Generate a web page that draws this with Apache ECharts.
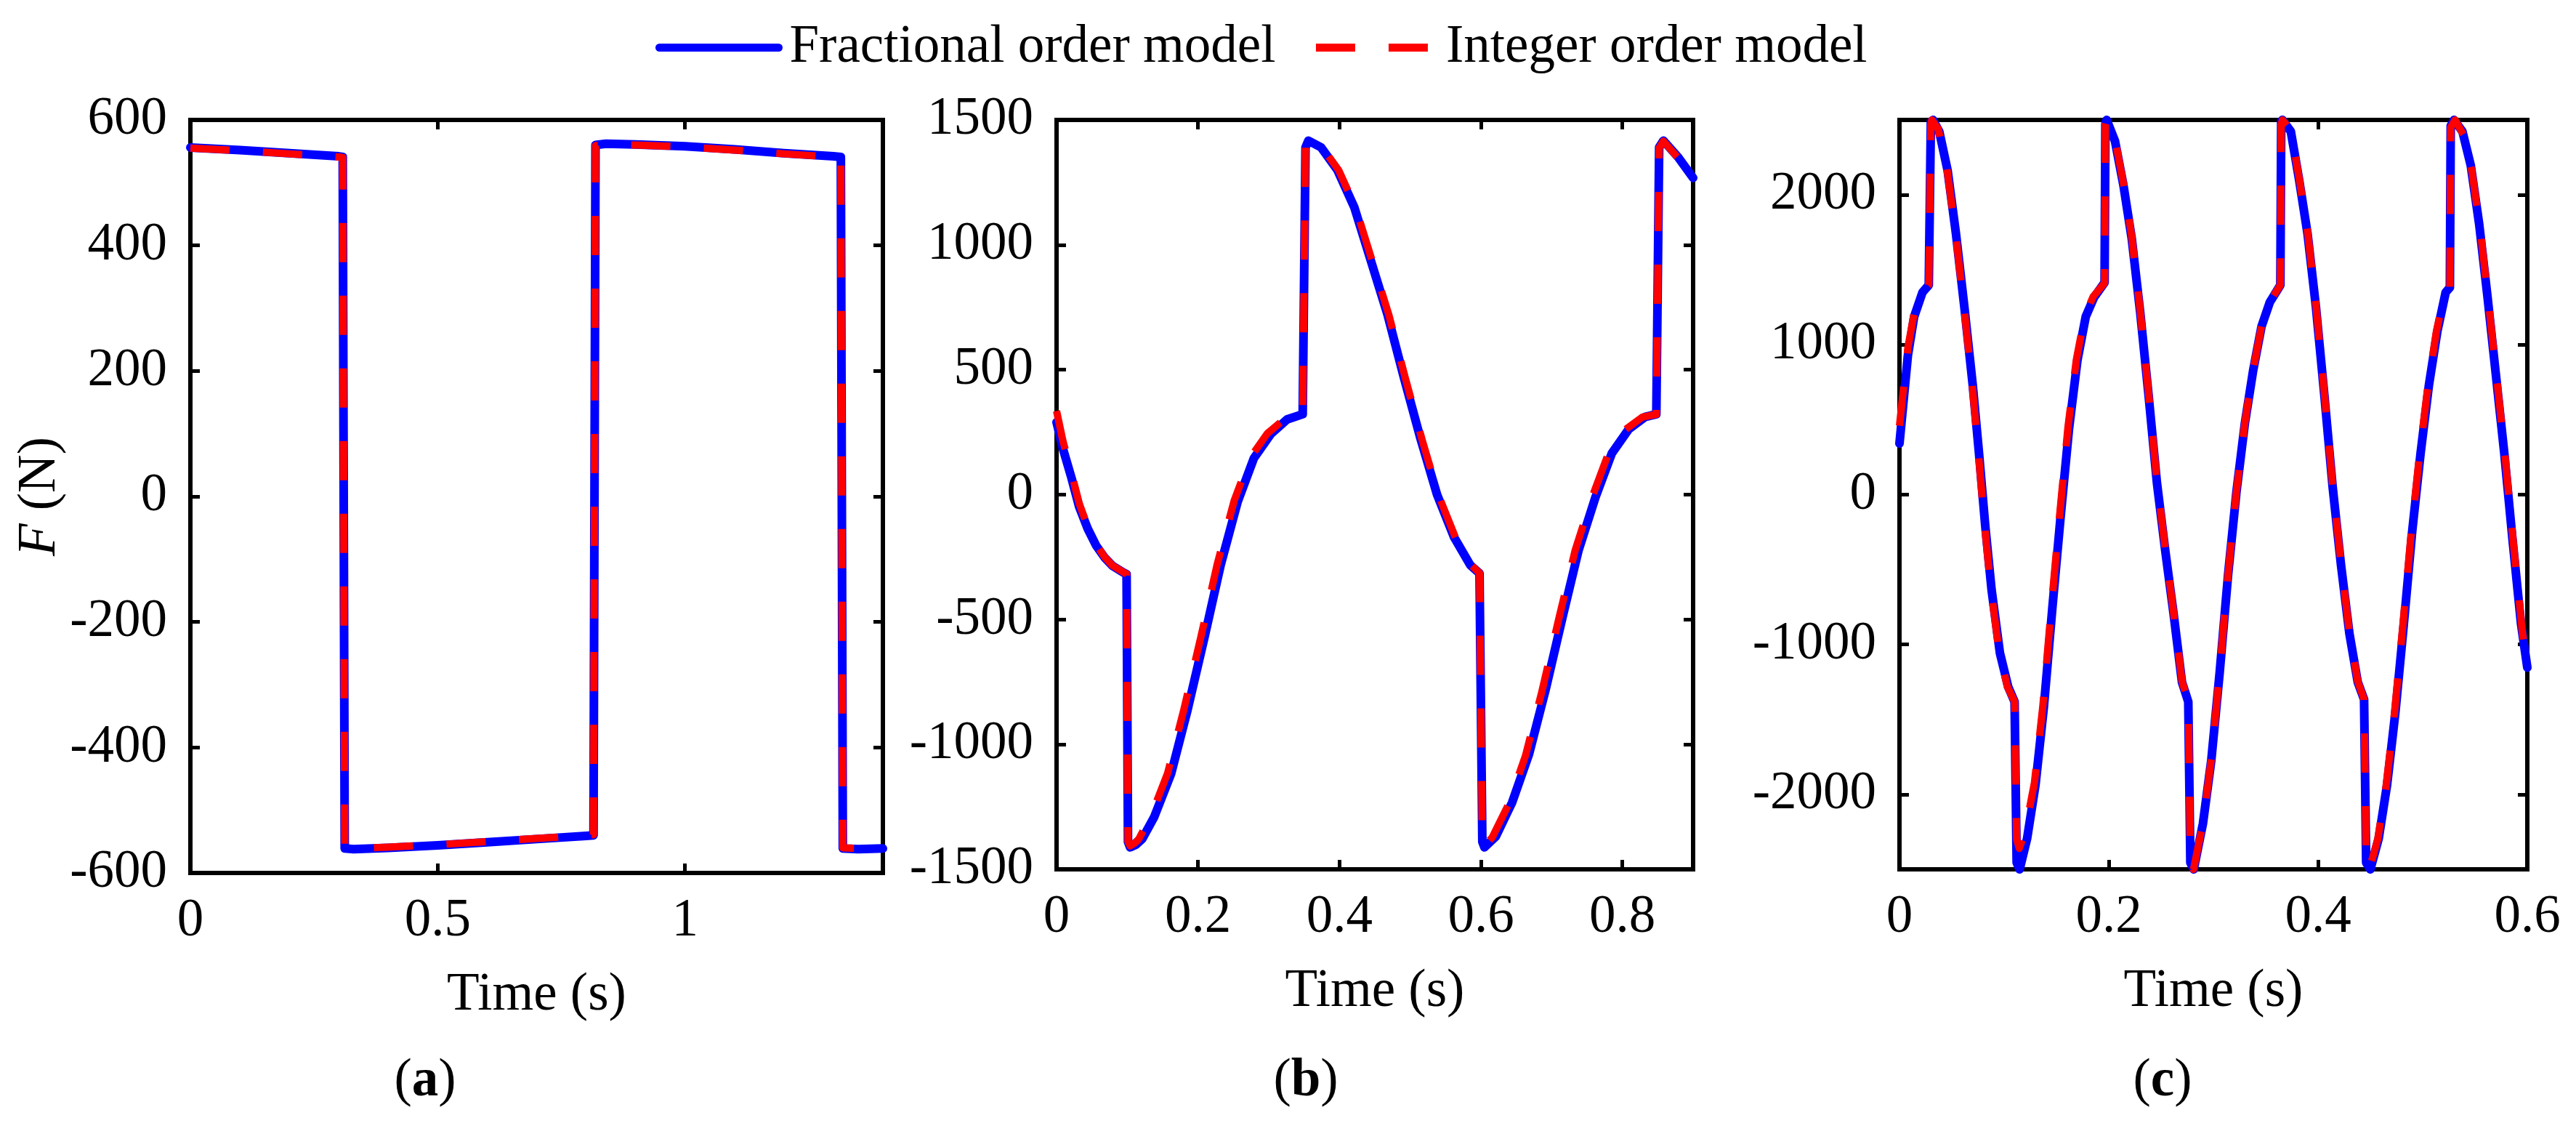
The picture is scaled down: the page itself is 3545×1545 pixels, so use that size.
<!DOCTYPE html>
<html>
<head>
<meta charset="utf-8">
<script src="https://cdn.jsdelivr.net/npm/echarts@6/dist/echarts.min.js"></script>
<style>
  html, body { margin: 0; padding: 0; background: #fff; }
  #forcechart { width: 3545px; height: 1545px; }
</style>
</head>
<body>
<div id="forcechart"></div>
<script>
// panel (a): square-wave force, [time s, F N]
var aFrac = [[0, 556], [0.1, 552], [0.2, 547], [0.3, 542], [0.308, 541], [0.312, -561], [0.33, -562],
  [0.4, -560], [0.5, -556], [0.6, -551], [0.7, -546], [0.8, -541], [0.815, -540], [0.819, 560],
  [0.84, 562], [0.9, 561], [1.0, 558], [1.1, 553], [1.2, 547], [1.3, 542], [1.315, 541],
  [1.319, -561], [1.35, -562], [1.4, -561]];
var aInt = [[0, 555], [0.1, 551], [0.2, 546], [0.3, 541], [0.308, 540], [0.312, -560], [0.33, -561],
  [0.4, -559], [0.5, -555], [0.6, -550], [0.7, -545], [0.8, -540], [0.815, -539], [0.819, 559],
  [0.84, 561], [0.9, 560], [1.0, 557], [1.1, 552], [1.2, 546], [1.3, 541], [1.315, 540],
  [1.319, -560], [1.35, -561], [1.4, -560]];

// panel (b)
var bFrac = [[0, 290], [0.009, 184], [0.021, 68], [0.032, -49], [0.044, -136], [0.056, -204],
  [0.068, -252], [0.079, -285], [0.094, -311], [0.099, -318], [0.101, -1390], [0.104, -1412],
  [0.112, -1402], [0.121, -1379], [0.138, -1291], [0.162, -1117], [0.185, -864], [0.209, -573],
  [0.232, -282], [0.256, -29], [0.279, 146], [0.303, 243], [0.326, 301], [0.348, 322], [0.35, 325],
  [0.352, 1390], [0.356, 1417], [0.374, 1390], [0.397, 1300], [0.421, 1150], [0.444, 940],
  [0.468, 720], [0.491, 470], [0.515, 220], [0.538, 0], [0.562, -170], [0.585, -282], [0.598, -315],
  [0.6, -318], [0.602, -1390], [0.605, -1412], [0.621, -1369], [0.644, -1233], [0.668, -1039],
  [0.691, -786], [0.715, -495], [0.738, -223], [0.762, -10], [0.785, 165], [0.809, 262],
  [0.832, 311], [0.848, 322], [0.85, 325], [0.852, 1390], [0.858, 1417], [0.879, 1350], [0.9, 1268]];
var bInt = [[0, 335], [0.009, 215], [0.021, 88], [0.032, -35], [0.044, -128], [0.056, -199],
  [0.068, -250], [0.079, -284], [0.094, -310], [0.099, -317], [0.101, -1388], [0.104, -1406],
  [0.11, -1396], [0.116, -1380], [0.133, -1290], [0.157, -1115], [0.18, -860], [0.204, -570],
  [0.227, -280], [0.251, -25], [0.274, 148], [0.298, 245], [0.322, 302], [0.348, 322], [0.35, 325],
  [0.352, 1390], [0.356, 1415], [0.376, 1388], [0.399, 1298], [0.423, 1148], [0.446, 938],
  [0.47, 718], [0.493, 468], [0.517, 218], [0.54, -2], [0.564, -172], [0.587, -284], [0.598, -314],
  [0.6, -317], [0.602, -1388], [0.605, -1406], [0.616, -1372], [0.639, -1240], [0.663, -1045],
  [0.686, -790], [0.71, -498], [0.733, -225], [0.757, -12], [0.78, 163], [0.804, 260],
  [0.828, 310], [0.848, 321], [0.85, 324], [0.852, 1388], [0.858, 1415], [0.879, 1347], [0.9, 1262]];

// panel (c)
var cFrac = [[0, 341], [0.008, 927], [0.014, 1187], [0.022, 1350], [0.028, 1398], [0.03, 2488],
  [0.032, 2500], [0.038, 2423], [0.046, 2163], [0.054, 1740], [0.062, 1252], [0.07, 732],
  [0.076, 276], [0.082, -211], [0.088, -634], [0.096, -1057], [0.104, -1285], [0.11, -1382],
  [0.112, -2455], [0.1148, -2500], [0.122, -2293], [0.13, -1935], [0.138, -1415], [0.146, -764],
  [0.154, -146], [0.162, 439], [0.17, 894], [0.178, 1187], [0.186, 1317], [0.196, 1415],
  [0.1968, 2472], [0.198, 2500], [0.206, 2358], [0.214, 2065], [0.222, 1707], [0.23, 1220],
  [0.238, 667], [0.246, 81], [0.254, -374], [0.262, -797], [0.27, -1252], [0.276, -1382],
  [0.278, -2455], [0.2812, -2500], [0.29, -2195], [0.298, -1772], [0.306, -1187], [0.314, -537],
  [0.322, 16], [0.33, 472], [0.338, 829], [0.346, 1122], [0.354, 1285], [0.364, 1398],
  [0.3648, 2488], [0.366, 2500], [0.374, 2423], [0.382, 2098], [0.39, 1740], [0.398, 1252],
  [0.406, 667], [0.414, 49], [0.422, -472], [0.43, -927], [0.438, -1252], [0.444, -1366],
  [0.446, -2455], [0.45, -2500], [0.458, -2293], [0.466, -1935], [0.474, -1447], [0.482, -862],
  [0.49, -244], [0.498, 276], [0.506, 732], [0.514, 1089], [0.522, 1350], [0.526, 1382],
  [0.5268, 2460], [0.53, 2500], [0.538, 2423], [0.546, 2195], [0.554, 1805], [0.562, 1317],
  [0.57, 797], [0.578, 276], [0.586, -309], [0.594, -862], [0.6, -1154]];
var cInt = [[0, 460], [0.008, 980], [0.014, 1210], [0.022, 1360], [0.028, 1400], [0.03, 2470],
  [0.031, 2500], [0.037, 2440], [0.045, 2190], [0.053, 1780], [0.061, 1290], [0.069, 770],
  [0.075, 310], [0.081, -180], [0.087, -610], [0.095, -1040], [0.103, -1280], [0.11, -1380],
  [0.112, -2300], [0.1145, -2360], [0.12, -2250], [0.129, -1920], [0.137, -1410], [0.145, -760],
  [0.153, -140], [0.161, 450], [0.169, 900], [0.177, 1190], [0.185, 1320], [0.196, 1412],
  [0.1968, 2470], [0.198, 2500], [0.206, 2370], [0.214, 2080], [0.222, 1720], [0.23, 1230],
  [0.238, 680], [0.246, 95], [0.254, -360], [0.262, -790], [0.27, -1245], [0.276, -1380],
  [0.278, -2450], [0.281, -2500], [0.29, -2190], [0.298, -1765], [0.306, -1180], [0.314, -530],
  [0.322, 22], [0.33, 478], [0.338, 835], [0.346, 1125], [0.354, 1288], [0.364, 1398],
  [0.3648, 2470], [0.366, 2500], [0.374, 2430], [0.382, 2110], [0.39, 1755], [0.398, 1265],
  [0.406, 680], [0.414, 60], [0.422, -460], [0.43, -920], [0.438, -1248], [0.444, -1365],
  [0.446, -2450], [0.449, -2500], [0.457, -2300], [0.465, -1945], [0.473, -1460], [0.481, -875],
  [0.489, -255], [0.497, 268], [0.505, 725], [0.513, 1085], [0.521, 1348], [0.526, 1382],
  [0.5268, 2450], [0.531, 2500], [0.539, 2400], [0.547, 2160], [0.555, 1770], [0.563, 1280],
  [0.571, 760], [0.579, 240], [0.587, -345], [0.595, -900], [0.6, -1180]];

var xMax = [1.4, 0.9, 0.6];
var xStep = [0.5, 0.2, 0.2];
var yMax = [600, 1500, 2500];
var subLabels = ['a', 'b', 'c'];

var FONT = "'Liberation Serif', 'Times New Roman', serif";
var FS = 73;
var DASH = [54, 46];

var Chart = echarts.init(document.getElementById('forcechart'), null, { renderer: 'canvas' });

var grids = [
  { left: 262, top: 165, width: 953, height: 1036 },
  { left: 1454, top: 165, width: 876, height: 1031 },
  { left: 2614, top: 165, width: 864, height: 1031 }
];

var xAxes = [], yAxes = [];
grids.forEach(function (g, i) {
  g.show = true;
  g.borderColor = '#000';
  g.borderWidth = 6;
  var tick = { show: true, inside: true, length: 13, lineStyle: { color: '#000', width: 5 } };
  var noLine = { show: false, onZero: false };
  var xLab = {
    color: '#000', fontFamily: FONT, fontSize: FS, margin: 30,
    formatter: function (v) {
      var k = Math.round(v / xStep[i] * 1000) / 1000;
      return Math.abs(k - Math.round(k)) < 1e-6 ? String(+v.toFixed(2)) : '';
    }
  };
  var yLab = {
    color: '#000', fontFamily: FONT, fontSize: FS, margin: 32,
    formatter: function (v) { return Math.abs(v) === 2500 ? '' : String(v); }
  };
  xAxes.push({
    type: 'value', gridIndex: i, position: 'bottom', min: 0, max: xMax[i], interval: xStep[i],
    axisLine: noLine, axisTick: tick, splitLine: { show: false }, axisLabel: xLab,
    name: 'Time (s)', nameLocation: 'middle', nameGap: 132,
    nameTextStyle: { color: '#000', fontFamily: FONT, fontSize: FS }
  });
  xAxes.push({
    type: 'value', gridIndex: i, position: 'top', min: 0, max: xMax[i], interval: xStep[i],
    axisLine: noLine, axisTick: tick, splitLine: { show: false }, axisLabel: { show: false }
  });
  var yBase = { type: 'value', gridIndex: i, min: -yMax[i], max: yMax[i] };
  if (i < 2) { yBase.interval = yMax[i] / 3; } else { yBase.splitNumber = 5; }
  var yl = Object.assign({}, yBase, {
    position: 'left', axisLine: noLine, axisTick: tick,
    splitLine: { show: false }, axisLabel: yLab
  });
  if (i === 0) {
    yl.name = '{i|F} (N)';
    yl.nameLocation = 'middle';
    yl.nameRotate = 90;
    yl.nameGap = 168;
    yl.nameTextStyle = {
      color: '#000', fontFamily: FONT, fontSize: FS,
      rich: { i: { fontStyle: 'italic', fontFamily: FONT, fontSize: FS, color: '#000' } }
    };
  }
  yAxes.push(yl);
  yAxes.push(Object.assign({}, yBase, {
    position: 'right', axisLine: noLine, axisTick: tick,
    splitLine: { show: false }, axisLabel: { show: false }
  }));
});

var panels = [[aFrac, aInt], [bFrac, bInt], [cFrac, cInt]];
var series = [];
panels.forEach(function (p, i) {
  series.push({
    name: 'Fractional order model', type: 'line', xAxisIndex: 2 * i, yAxisIndex: 2 * i,
    data: p[0], symbol: 'none', showSymbol: false, animation: false, z: 3,
    lineStyle: { color: '#0000ff', width: 12, join: 'round', cap: 'round' },
    itemStyle: { color: '#0000ff' }
  });
  series.push({
    name: 'Integer order model', type: 'line', xAxisIndex: 2 * i, yAxisIndex: 2 * i,
    data: p[1], symbol: 'none', showSymbol: false, animation: false, z: 4,
    lineStyle: { color: '#ff0000', width: 10, type: DASH, join: 'round' },
    itemStyle: { color: '#ff0000' }
  });
});

var subCenters = [[585, 1488], [1797, 1488], [2976, 1488]];
var graphics = subLabels.map(function (s, i) {
  return {
    type: 'text', x: subCenters[i][0], y: subCenters[i][1],
    style: {
      text: '{n|(}{b|' + s + '}{n|)}',
      align: 'center', verticalAlign: 'middle',
      font: FS + 'px ' + FONT, fill: '#000',
      rich: {
        n: { fontFamily: FONT, fontSize: FS, color: '#000' },
        b: { fontFamily: FONT, fontSize: FS, fontWeight: 'bold', color: '#000' }
      }
    }
  };
});

var options = {
  backgroundColor: '#fff',
  animation: false,
  legend: {
    left: 897, top: 24, itemWidth: 164, itemHeight: 14, itemGap: 50,
    data: ['Fractional order model', 'Integer order model'],
    itemStyle: { opacity: 0 },
    lineStyle: { width: 11 },
    textStyle: { color: '#000', fontFamily: FONT, fontSize: FS, padding: [0, 0, 0, 10] }
  },
  grid: grids,
  xAxis: xAxes,
  yAxis: yAxes,
  series: series,
  graphic: graphics
};
Chart.setOption(options);
</script>
</body>
</html>
